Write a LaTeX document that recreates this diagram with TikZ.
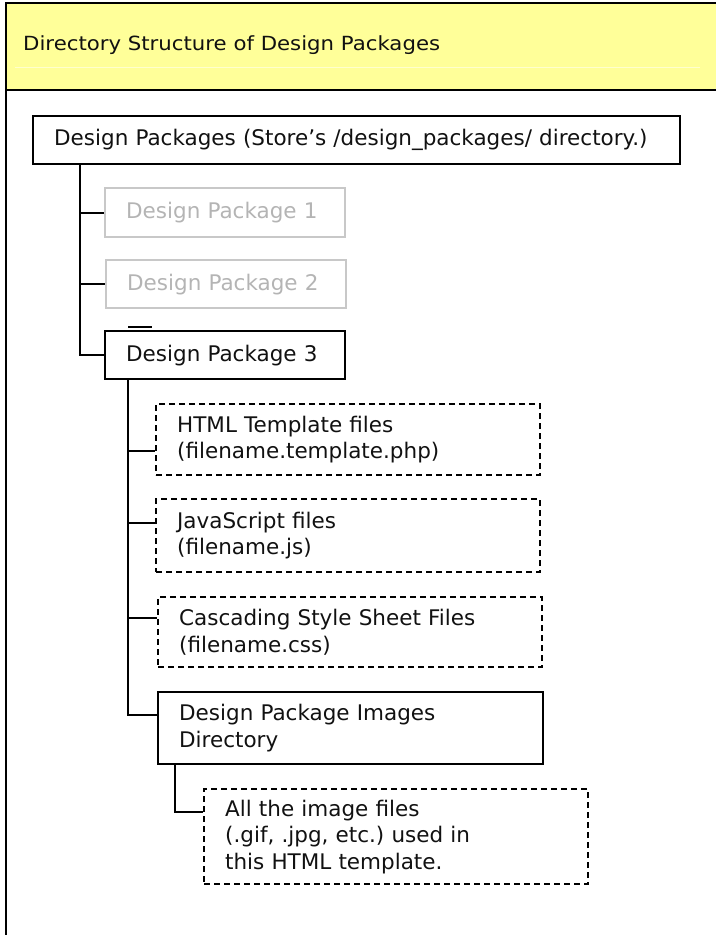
\documentclass[tikz,border=0pt]{standalone}
\usepackage{fontspec}
\setmainfont{DejaVu Sans}
\newfontfamily\titlefont[FakeStretch=1.09]{DejaVu Sans}
\usetikzlibrary{calc}
\frenchspacing
\definecolor{hdr}{RGB}{255,255,153}
\definecolor{hdrline}{RGB}{255,255,205}
\definecolor{ink}{RGB}{17,17,17}
\definecolor{paleline}{RGB}{200,200,200}
\definecolor{paletext}{RGB}{180,180,180}
\tikzset{
  box/.style={draw=black, line width=2.3pt, anchor=north west, inner xsep=21pt, inner ysep=0pt,
    align=left, text=ink, font=\frenchspacing\fontsize{21.5}{26.5}\selectfont},
  dashbox/.style={box, dash pattern=on 6pt off 4pt},
  palebox/.style={box, draw=paleline, text=paletext},
  conn/.style={draw=black, line width=2.3pt},
  frame/.style={draw=black, line width=2.6pt}
}
\begin{document}
\begin{tikzpicture}[x=1pt,y=-1pt]
\useasboundingbox (0,0) rectangle (716,935);
% header
\fill[hdr] (6,3) rectangle (716,90);
\draw[hdrline, line width=1pt] (15,67) -- (700,67);
\draw[frame] (6,3) -- (716,3);
\draw[frame] (6,90) -- (716,90);
\draw[frame] (6,2) -- (6,935);
\node[anchor=base west, text=ink, inner sep=0pt, font=\titlefont\fontsize{19.5}{22}\selectfont] (title) at (23,50.5) {Directory Structure of Design Packages};
% boxes
\node[box, text width=605pt, minimum width=647pt, minimum height=48pt] (root) at (32,115) {\mbox{Design Packages (Store’s /design\_packages/ directory.)}};
\node[palebox, text width=198pt, minimum width=240pt, minimum height=49pt] (dp1) at (104,187) {Design Package 1};
\node[palebox, text width=198pt, minimum width=240pt, minimum height=48pt] (dp2) at (105,259) {Design Package 2};
\node[box, text width=198pt, minimum width=240pt, minimum height=48pt] (dp3) at (104,330) {Design Package 3};
\node[dashbox, text width=342pt, minimum width=384pt, minimum height=71pt] (html) at (155,403) {HTML Template files\\(filename.template.php)};
\node[dashbox, text width=342pt, minimum width=384pt, minimum height=73pt] (js) at (155,498) {JavaScript files\\(filename.js)};
\node[dashbox, text width=342pt, minimum width=384pt, minimum height=70pt] (css) at (157,596) {Cascading Style Sheet Files\\(filename.css)};
\node[box, text width=343pt, minimum width=385pt, minimum height=72pt] (img) at (157,691) {Design Package Images\\Directory};
\node[dashbox, text width=342pt, minimum width=384pt, minimum height=95pt] (all) at (203,788) {All the image files\\(.gif, .jpg, etc.) used in\\this HTML template.};
% connectors
\coordinate (t0) at ($(root.south west)+(48,0)$);
\draw[conn] (t0) |- (dp3.west);
\draw[conn] (t0 |- dp1.west) -- (dp1.west);
\draw[conn] (t0 |- dp2.west) -- (dp2.west);
\draw[conn, line width=1.5pt] ($(dp3.north west)+(24,-3)$) -- ++(24,0);
\coordinate (t1) at ($(dp3.south west)+(24,0)$);
\coordinate (imgc) at ($(img.north west)+(0,24)$);
\draw[conn] (t1) |- (imgc);
\coordinate (htmlc) at ($(html.north west)+(0,48)$);
\coordinate (jsc) at ($(js.north west)+(0,25)$);
\coordinate (cssc) at ($(css.north west)+(0,22)$);
\draw[conn] (t1 |- htmlc) -- (htmlc);
\draw[conn] (t1 |- jsc) -- (jsc);
\draw[conn] (t1 |- cssc) -- (cssc);
\coordinate (t2) at ($(img.south west)+(18,0)$);
\coordinate (allc) at ($(all.north west)+(0,24)$);
\draw[conn] (t2) |- (allc);
\end{tikzpicture}
\end{document}
